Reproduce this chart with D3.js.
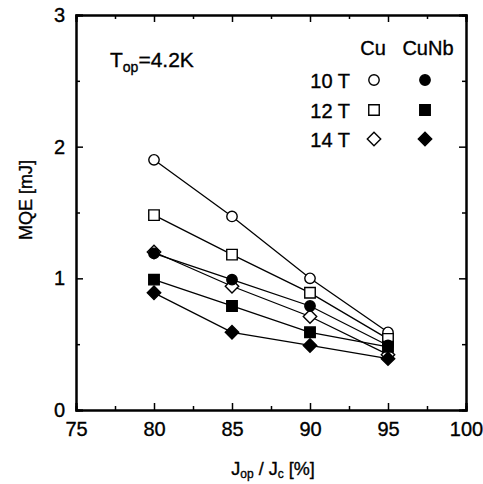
<!DOCTYPE html>
<html>
<head>
<meta charset="utf-8">
<script src="https://cdn.jsdelivr.net/npm/d3@7"></script>
<style>
  html, body { margin: 0; padding: 0; background: #fff; }
  svg { display: block; font-family: "Liberation Sans", Arial, Helvetica, sans-serif; }
  .txt { fill: #000; stroke: #000; stroke-width: 0.35px; }
</style>
</head>
<body>
<svg id="chart" width="483" height="484"></svg>
<script>
// Current ratio Jop/Jc (%)
const ratios = [80, 85, 90, 95];

// MQE (mJ) for each conductor / field
const cu10 = [1.90, 1.47, 1.00, 0.59];
const cu12 = [1.48, 1.18, 0.89, 0.54];
const cu14 = [1.20, 0.94, 0.71, 0.42];
const cunb10 = [1.19, 0.99, 0.79, 0.49];
const cunb12 = [0.99, 0.79, 0.59, 0.48];
const cunb14 = [0.89, 0.59, 0.49, 0.39];

const xTicks = [75, 80, 85, 90, 95, 100];
const yTicks = [0, 1, 2, 3];
const fieldLabels = ["10 T", "12 T", "14 T"];
const columnLabels = ["Cu", "CuNb"];

const series = [
  { values: cu14, shape: "diamond", filled: false },
  { values: cu10, shape: "circle", filled: false },
  { values: cu12, shape: "square", filled: false },
  { values: cunb10, shape: "circle", filled: true },
  { values: cunb12, shape: "square", filled: true },
  { values: cunb14, shape: "diamond", filled: true }
];

const svg = d3.select("#chart");
const frame = { left: 76, right: 466, top: 15, bottom: 410 };

const x = d3.scaleLinear().domain([75, 100]).range([frame.left, frame.right]);
const y = d3.scaleLinear().domain([0, 3]).range([frame.bottom, frame.top]);

// Square rotated 45 degrees, as wide as it is tall
const rhombus = {
  draw(ctx, size) {
    const r = Math.sqrt(size / 2);
    ctx.moveTo(0, -r); ctx.lineTo(r, 0); ctx.lineTo(0, r); ctx.lineTo(-r, 0); ctx.closePath();
  }
};
const symbolFor = {
  circle: d3.symbol().type(d3.symbolCircle).size(85),
  square: d3.symbol().type(d3.symbolSquare).size(110),
  diamond: d3.symbol().type(rhombus).size(90)
};

// Axes with inward ticks on all four sides
const minorX = d3.range(77.5, 100, 5);
const minorY = [0.5, 1.5, 2.5];

svg.append("g").attr("transform", `translate(0,${frame.bottom})`)
  .call(d3.axisBottom(x).tickValues(xTicks).tickSize(-7).tickPadding(12).tickFormat(d3.format("d")));
svg.append("g").attr("transform", `translate(0,${frame.top})`)
  .call(d3.axisTop(x).tickValues(xTicks).tickSize(-7).tickFormat(""));
svg.append("g").attr("transform", `translate(${frame.left},0)`)
  .call(d3.axisLeft(y).tickValues(yTicks).tickSize(-7).tickPadding(11).tickFormat(d3.format("d")));
svg.append("g").attr("transform", `translate(${frame.right},0)`)
  .call(d3.axisRight(y).tickValues(yTicks).tickSize(-7).tickFormat(""));

svg.append("g").attr("transform", `translate(0,${frame.bottom})`)
  .call(d3.axisBottom(x).tickValues(minorX).tickSize(-4).tickFormat(""));
svg.append("g").attr("transform", `translate(0,${frame.top})`)
  .call(d3.axisTop(x).tickValues(minorX).tickSize(-4).tickFormat(""));
svg.append("g").attr("transform", `translate(${frame.left},0)`)
  .call(d3.axisLeft(y).tickValues(minorY).tickSize(-4).tickFormat(""));
svg.append("g").attr("transform", `translate(${frame.right},0)`)
  .call(d3.axisRight(y).tickValues(minorY).tickSize(-4).tickFormat(""));

svg.selectAll(".domain").attr("stroke", "#000").attr("stroke-width", 2);
svg.selectAll(".tick line").attr("stroke", "#000").attr("stroke-width", 1.5);
svg.selectAll(".tick text").attr("class", "txt").attr("font-size", 20)
  .attr("font-family", "Liberation Sans, Arial, sans-serif");

// Axis titles
const xt = svg.append("text").attr("class", "txt").attr("x", 273).attr("y", 475)
  .attr("text-anchor", "middle").attr("font-size", 18);
xt.append("tspan").text("J");
xt.append("tspan").attr("font-size", 12).attr("dy", 3).text("op");
xt.append("tspan").attr("dy", -3).text(" / J");
xt.append("tspan").attr("font-size", 12).attr("dy", 3).text("c");
xt.append("tspan").attr("dy", -3).text(" [%]");

svg.append("text").attr("class", "txt").attr("transform", "translate(32,200) rotate(-90)")
  .attr("text-anchor", "middle").attr("font-size", 18)
  .text("MQE [mJ]");

// Lines and markers
const line = d3.line().x((d, i) => x(ratios[i])).y(d => y(d));
const plot = svg.append("g");
series.forEach(s => {
  plot.append("path").datum(s.values).attr("d", line)
    .attr("fill", "none").attr("stroke", "#000").attr("stroke-width", 1.3);
});
series.forEach(s => {
  plot.selectAll(null).data(s.values).enter().append("path")
    .attr("d", symbolFor[s.shape])
    .attr("transform", (d, i) => `translate(${x(ratios[i])},${y(d)})`)
    .attr("fill", s.filled ? "#000" : "#fff")
    .attr("stroke", "#000").attr("stroke-width", 1.4);
});

// Operating temperature note
const note = svg.append("text").attr("class", "txt").attr("x", 110).attr("y", 67)
  .attr("font-size", 21);
note.append("tspan").text("T");
note.append("tspan").attr("font-size", 14).attr("dy", 5).text("op");
note.append("tspan").attr("dy", -5).text("=4.2K");

// Legend
const legend = svg.append("g").attr("font-size", 20);
const colX = [374, 425];
const rowY = [80, 110, 139];
columnLabels.forEach((c, i) => {
  legend.append("text").attr("class", "txt").attr("x", colX[i] + (i ? 3 : -1)).attr("y", 55)
    .attr("text-anchor", "middle").text(c);
});
fieldLabels.forEach((f, i) => {
  legend.append("text").attr("class", "txt").attr("x", 350).attr("y", rowY[i] + 8)
    .attr("text-anchor", "end").text(f);
});
const shapes = ["circle", "square", "diamond"];
shapes.forEach((sh, r) => {
  [false, true].forEach((filled, c) => {
    legend.append("path").attr("d", symbolFor[sh])
      .attr("transform", `translate(${colX[c]},${rowY[r]})`)
      .attr("fill", filled ? "#000" : "#fff")
      .attr("stroke", "#000").attr("stroke-width", 1.4);
  });
});
</script>
</body>
</html>
